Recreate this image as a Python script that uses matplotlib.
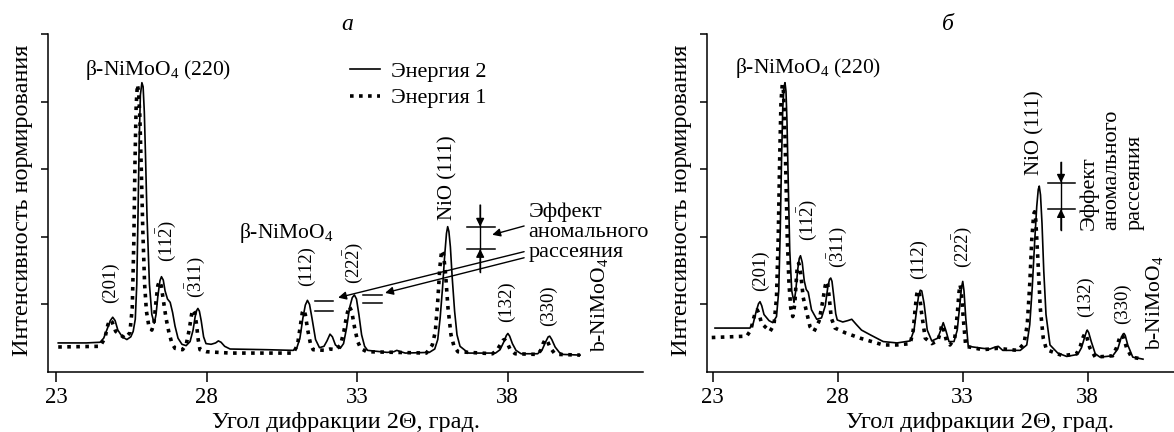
import matplotlib
matplotlib.use('Agg')
import matplotlib.pyplot as plt

plt.rcParams['font.family'] = ['Liberation Serif', 'DejaVu Serif']
plt.rcParams['mathtext.fontset'] = 'custom'
plt.rcParams['mathtext.rm'] = 'Liberation Serif'
plt.rcParams['mathtext.it'] = 'Liberation Serif:italic'

# --- panel a (left) ---
a_solid_x = [23.07, 24.0, 24.46, 24.58, 24.70, 24.80, 24.88, 24.96, 25.05, 25.20, 25.35, 25.48, 25.56,
             25.63, 25.68, 25.72, 25.76, 25.80, 25.85, 25.89, 25.93, 25.97, 26.02, 26.10, 26.18, 26.26,
             26.32, 26.38, 26.45, 26.50, 26.56, 26.62, 26.70, 26.79, 26.87, 26.95, 27.05, 27.18, 27.32,
             27.45, 27.55, 27.62, 27.67, 27.71, 27.76, 27.82, 27.90, 27.98, 28.15, 28.30, 28.39, 28.48,
             28.60, 28.78, 30.0, 30.88, 31.00, 31.10, 31.20, 31.28, 31.35, 31.42, 31.50, 31.62, 31.75,
             31.90, 32.00, 32.10, 32.18, 32.28, 32.44, 32.55, 32.65, 32.75, 32.84, 32.91, 32.98, 33.06,
             33.15, 33.25, 33.35, 34.0, 34.22, 34.32, 34.45, 34.6, 35.4, 35.58, 35.68, 35.76, 35.84,
             35.91, 35.97, 36.01, 36.05, 36.10, 36.16, 36.24, 36.32, 36.42, 36.7, 37.6, 37.75, 37.88,
             37.96, 38.01, 38.07, 38.16, 38.28, 38.45, 39.0, 39.15, 39.27, 39.35, 39.40, 39.47, 39.58,
             39.72, 39.85, 40.41]
a_solid_y = [0.43, 0.43, 0.44, 0.50, 0.64, 0.76, 0.81, 0.76, 0.62, 0.52, 0.48, 0.52, 0.60,
             0.78, 1.30, 2.30, 3.40, 4.10, 4.28, 4.22, 3.85, 3.20, 2.30, 1.30, 0.85, 0.72,
             0.85, 1.12, 1.35, 1.41, 1.36, 1.20, 1.08, 1.03, 0.88, 0.68, 0.50, 0.41, 0.39,
             0.45, 0.62, 0.82, 0.91, 0.94, 0.90, 0.76, 0.52, 0.42, 0.41, 0.43, 0.46, 0.44,
             0.38, 0.34, 0.33, 0.32, 0.36, 0.50, 0.80, 0.99, 1.06, 1.00, 0.80, 0.48, 0.36,
             0.38, 0.46, 0.56, 0.52, 0.40, 0.35, 0.42, 0.65, 0.95, 1.10, 1.14, 1.08, 0.85,
             0.55, 0.38, 0.32, 0.29, 0.30, 0.32, 0.30, 0.28, 0.29, 0.34, 0.48, 0.80, 1.25,
             1.72, 2.05, 2.15, 2.08, 1.85, 1.40, 0.90, 0.55, 0.38, 0.28, 0.28, 0.33, 0.45,
             0.54, 0.57, 0.53, 0.42, 0.32, 0.27, 0.27, 0.33, 0.45, 0.52, 0.53, 0.48, 0.37,
             0.29, 0.26, 0.25]
a_dot_x = [23.07, 24.46, 24.62, 24.72, 24.79, 24.86, 24.98, 25.29, 25.45, 25.53, 25.58, 25.62, 25.66,
           25.70, 25.74, 25.78, 25.83, 25.88, 25.94, 26.0, 26.08, 26.18, 26.25, 26.32, 26.38, 26.43,
           26.49, 26.55, 26.65, 26.75, 26.85, 26.95, 27.2, 27.32, 27.42, 27.50, 27.54, 27.60, 27.66,
           27.72, 27.78, 28.0, 28.78, 30.88, 31.02, 31.12, 31.18, 31.22, 31.28, 31.36, 31.45, 31.54,
           31.95, 32.10, 32.3, 32.45, 32.56, 32.66, 32.74, 32.82, 32.92, 33.02, 33.12, 33.32, 35.3,
           35.50, 35.60, 35.68, 35.75, 35.81, 35.87, 35.94, 36.02, 36.12, 36.22, 36.35, 37.5, 37.66,
           37.78, 37.85, 37.90, 37.97, 38.08, 38.25, 39.0, 39.1, 39.18, 39.25, 39.31, 39.42, 39.55,
           39.7, 40.41]
a_dot_y = [0.37, 0.38, 0.50, 0.70, 0.77, 0.74, 0.60, 0.50, 0.58, 0.95, 1.90, 3.10, 3.95,
           4.25, 4.15, 3.80, 3.00, 2.10, 1.30, 0.90, 0.68, 0.62, 0.72, 1.05, 1.28, 1.34,
           1.28, 1.10, 0.80, 0.58, 0.42, 0.35, 0.33, 0.40, 0.62, 0.85, 0.92, 0.88, 0.72,
           0.48, 0.33, 0.30, 0.28, 0.28, 0.40, 0.70, 0.88, 0.92, 0.85, 0.62, 0.42, 0.33,
           0.32, 0.34, 0.33, 0.40, 0.60, 0.85, 0.97, 0.90, 0.65, 0.45, 0.35, 0.30, 0.28,
           0.40, 0.60, 1.05, 1.55, 1.80, 1.75, 1.45, 0.95, 0.55, 0.38, 0.30, 0.27, 0.33,
           0.42, 0.47, 0.48, 0.45, 0.34, 0.27, 0.26, 0.32, 0.42, 0.48, 0.47, 0.36, 0.28,
           0.26, 0.25]

# --- panel б (right) ---
b_solid_x = [23.09, 24.49, 24.62, 24.74, 24.83, 24.89, 24.96, 25.05, 25.25, 25.40, 25.55, 25.64, 25.70,
             25.75, 25.80, 25.85, 25.89, 25.93, 25.97, 26.02, 26.08, 26.16, 26.25, 26.32, 26.40, 26.46,
             26.51, 26.58, 26.66, 26.74, 26.82, 26.95, 27.16, 27.35, 27.50, 27.60, 27.67, 27.72, 27.77,
             27.84, 27.92, 27.98, 28.2, 28.40, 28.56, 28.75, 28.95, 29.3, 29.82, 30.37, 30.9, 31.05,
             31.15, 31.23, 31.30, 31.36, 31.45, 31.58, 31.76, 32.0, 32.12, 32.22, 32.32, 32.45, 32.65,
             32.78, 32.88, 32.95, 33.0, 33.05, 33.12, 33.22, 33.8, 34.09, 34.30, 34.42, 34.6, 35.3,
             35.56, 35.68, 35.78, 35.88, 35.96, 36.02, 36.06, 36.11, 36.17, 36.24, 36.33, 36.49, 36.8,
             37.16, 37.6, 37.75, 37.88, 37.95, 37.98, 38.04, 38.14, 38.3, 38.49, 39.0, 39.20, 39.33,
             39.41, 39.45, 39.50, 39.60, 39.8, 40.21]
b_solid_y = [0.65, 0.65, 0.72, 0.90, 1.01, 1.04, 0.98, 0.85, 0.76, 0.73, 0.82, 1.20, 2.10,
             3.10, 3.90, 4.22, 4.28, 4.15, 3.70, 2.80, 1.80, 1.20, 1.03, 1.20, 1.52, 1.68,
             1.72, 1.62, 1.35, 1.22, 1.18, 0.92, 0.78, 0.80, 0.98, 1.25, 1.37, 1.39, 1.34,
             1.12, 0.86, 0.77, 0.74, 0.76, 0.78, 0.70, 0.62, 0.55, 0.45, 0.43, 0.46, 0.62,
             0.90, 1.12, 1.21, 1.20, 1.02, 0.62, 0.46, 0.50, 0.62, 0.73, 0.62, 0.45, 0.45,
             0.62, 0.98, 1.25, 1.34, 1.20, 0.80, 0.38, 0.35, 0.34, 0.37, 0.38, 0.32, 0.32,
             0.40, 0.70, 1.25, 1.95, 2.45, 2.70, 2.75, 2.62, 2.20, 1.50, 0.85, 0.40, 0.28,
             0.23, 0.26, 0.36, 0.52, 0.60, 0.62, 0.58, 0.45, 0.27, 0.22, 0.24, 0.34, 0.50,
             0.56, 0.57, 0.54, 0.40, 0.22, 0.19]
b_dot_x = [22.96, 24.36, 24.52, 24.64, 24.72, 24.78, 24.86, 24.95, 25.29, 25.45, 25.55, 25.62, 25.68,
           25.73, 25.78, 25.82, 25.87, 25.92, 25.98, 26.05, 26.12, 26.20, 26.28, 26.34, 26.38, 26.44,
           26.52, 26.62, 26.89, 27.05, 27.25, 27.40, 27.50, 27.56, 27.60, 27.66, 27.74, 27.89, 28.3,
           28.9, 29.82, 30.37, 30.9, 31.02, 31.10, 31.16, 31.21, 31.27, 31.35, 31.5, 31.76, 32.0,
           32.10, 32.16, 32.24, 32.35, 32.49, 32.68, 32.78, 32.85, 32.89, 32.94, 33.02, 33.12, 33.8,
           34.38, 35.2, 35.45, 35.58, 35.68, 35.76, 35.83, 35.87, 35.92, 36.00, 36.10, 36.22, 36.35,
           37.0, 37.55, 37.70, 37.82, 37.89, 37.96, 38.08, 38.3, 39.0, 39.15, 39.27, 39.36, 39.44,
           39.55, 39.75, 40.21]
b_dot_y = [0.51, 0.53, 0.62, 0.80, 0.90, 0.92, 0.85, 0.72, 0.60, 0.70, 1.10, 2.00, 3.20,
           4.00, 4.25, 4.20, 3.80, 3.00, 2.00, 1.30, 0.95, 0.82, 1.00, 1.35, 1.55, 1.61,
           1.45, 1.10, 0.67, 0.60, 0.75, 1.05, 1.28, 1.34, 1.30, 1.10, 0.80, 0.65, 0.58,
           0.50, 0.40, 0.40, 0.42, 0.62, 0.95, 1.15, 1.21, 1.15, 0.88, 0.50, 0.42, 0.46,
           0.58, 0.70, 0.62, 0.46, 0.40, 0.50, 0.85, 1.18, 1.29, 1.20, 0.80, 0.38, 0.33,
           0.35, 0.32, 0.42, 0.70, 1.30, 1.95, 2.30, 2.37, 2.25, 1.70, 0.95, 0.50, 0.33,
           0.24, 0.27, 0.38, 0.52, 0.57, 0.52, 0.36, 0.22, 0.24, 0.36, 0.50, 0.55, 0.50,
           0.36, 0.22, 0.19]

xticks = [23, 28, 33, 38]
legend_labels = ['Энергия 2', 'Энергия 1']

fig = plt.figure(figsize=(11.74, 4.32), dpi=100)
axL = fig.add_axes([48/1174, 1-372/432, 595/1174, 338/432])
axR = fig.add_axes([707/1174, 1-372/432, 467/1174, 338/432])

dotted = (0, (1, 1.5))
for ax in (axL, axR):
    for s in ('top', 'right'):
        ax.spines[s].set_visible(False)
    for s in ('left', 'bottom'):
        ax.spines[s].set_linewidth(1.1)
    ax.set_ylim(0, 5)
    ax.set_yticks([1, 2, 3, 4, 5])
    ax.set_yticklabels([])
    ax.set_xticks(xticks)
    ax.set_xticklabels([str(t) for t in xticks])
    ax.tick_params(axis='x', direction='out', length=7, width=1.1, labelsize=16.5, pad=4)
    ax.tick_params(axis='y', direction='out', length=5, width=1.1)
    ax.set_xlabel('Угол дифракции 2Θ, град.', fontsize=17.5)
    ax.set_ylabel('Интенсивность нормирования', fontsize=17.5)
    ax.patch.set_visible(False)

axL.set_xlim(22.73, 42.5)
axR.set_xlim(22.77, 41.45)

l1, = axL.plot(a_solid_x, a_solid_y, color='k', lw=1.2)
l2, = axL.plot(a_dot_x, a_dot_y, color='k', lw=2.6, linestyle=dotted)
axR.plot(b_solid_x, b_solid_y, color='k', lw=1.2)
axR.plot(b_dot_x, b_dot_y, color='k', lw=2.6, linestyle=dotted)

axL.xaxis.set_label_coords(0.5, -0.118)
axR.xaxis.set_label_coords(0.585, -0.118)
axL.yaxis.set_label_coords(-0.026, 0.509)
axR.yaxis.set_label_coords(-0.032, 0.509)

axL.legend([l1, l2], legend_labels, loc='upper left', bbox_to_anchor=(350/1174, 1-61/432),
           bbox_transform=fig.transFigure, frameon=False, fontsize=16, handlelength=1.35,
           handletextpad=0.5, labelspacing=0.28, borderpad=0, borderaxespad=0)

fig.text(347/1174, 1-25/432, 'а', fontsize=17, style='italic', ha='center', va='center')
fig.text(948/1174, 1-25/432, 'б', fontsize=17, style='italic', ha='center', va='center')

hkl = 13.5
# labels, panel a
axL.text(26.39, 4.47, r'β-NiMoO$_4$ (220)', fontsize=15.5, ha='center', va='center')
axL.text(24.79, 1.32, '(201)', fontsize=hkl, rotation=90, ha='center', va='center')
axL.text(26.65, 1.93, r'$\mathrm{(11\bar{2})}$', fontsize=hkl, rotation=90, ha='center', va='center')
axL.text(27.62, 1.41, r'$\mathrm{(\bar{3}11)}$', fontsize=hkl, rotation=90, ha='center', va='center')
axL.text(30.64, 2.06, r'β-NiMoO$_4$', fontsize=15.5, ha='center', va='center')
axL.text(31.31, 1.56, '(112)', fontsize=hkl, rotation=90, ha='center', va='center')
axL.text(32.87, 1.61, r'$\mathrm{(22\bar{2})}$', fontsize=hkl, rotation=90, ha='center', va='center')
axL.text(36.02, 2.87, 'NiO (111)', fontsize=15, rotation=90, ha='center', va='center')
axL.text(37.98, 1.04, '(132)', fontsize=hkl, rotation=90, ha='center', va='center')
axL.text(39.35, 0.98, '(330)', fontsize=hkl, rotation=90, ha='center', va='center')
axL.text(41.07, 0.99, r'b-NiMoO$_4$', fontsize=15.5, rotation=90, ha='center', va='center')
axL.text(38.69, 2.07, 'Эффект\nаномального\nрассеяния', fontsize=16, ha='left', va='center',
         linespacing=1.08)

arr = dict(arrowstyle='-|>', color='k', lw=1.0, shrinkA=0, shrinkB=0, mutation_scale=12)
# effect marker, panel a
axL.plot([36.66, 37.59], [2.15, 2.15], color='k', lw=1.1)
axL.plot([36.66, 37.59], [1.82, 1.82], color='k', lw=1.1)
axL.plot([37.09, 37.09], [2.47, 1.48], color='k', lw=1.0)
axL.annotate('', xy=(37.09, 2.15), xytext=(37.09, 2.47), arrowprops=arr)
axL.annotate('', xy=(37.09, 1.82), xytext=(37.09, 1.48), arrowprops=arr)
axL.annotate('', xy=(37.49, 2.03), xytext=(38.55, 2.16), arrowprops=arr)
axL.annotate('', xy=(32.37, 1.10), xytext=(38.55, 1.78), arrowprops=arr)
axL.annotate('', xy=(33.93, 1.17), xytext=(38.55, 1.69), arrowprops=arr)
axL.plot([31.61, 32.21], [1.05, 1.05], color='k', lw=1.1)
axL.plot([31.61, 32.21], [0.90, 0.90], color='k', lw=1.1)
axL.plot([33.20, 33.83], [1.14, 1.14], color='k', lw=1.1)
axL.plot([33.20, 33.83], [1.02, 1.02], color='k', lw=1.1)

# labels, panel б
axR.text(26.81, 4.49, r'β-NiMoO$_4$ (220)', fontsize=15.5, ha='center', va='center')
axR.text(24.89, 1.50, '(201)', fontsize=hkl, rotation=90, ha='center', va='center')
axR.text(26.77, 2.25, r'$\mathrm{(11\bar{2})}$', fontsize=hkl, rotation=90, ha='center', va='center')
axR.text(27.97, 1.85, r'$\mathrm{(\bar{3}11)}$', fontsize=hkl, rotation=90, ha='center', va='center')
axR.text(31.21, 1.67, '(112)', fontsize=hkl, rotation=90, ha='center', va='center')
axR.text(32.97, 1.85, r'$\mathrm{(22\bar{2})}$', fontsize=hkl, rotation=90, ha='center', va='center')
axR.text(35.89, 3.54, 'NiO (111)', fontsize=15, rotation=90, ha='center', va='center')
axR.text(37.89, 1.11, '(132)', fontsize=hkl, rotation=90, ha='center', va='center')
axR.text(39.37, 1.01, '(330)', fontsize=hkl, rotation=90, ha='center', va='center')
axR.text(40.69, 1.02, r'b-NiMoO$_4$', fontsize=15.5, rotation=90, ha='center', va='center')
axR.text(38.97, 2.10, 'Эффект\nаномального\nрассеяния', fontsize=16, rotation=90,
         ha='center', va='bottom', multialignment='left', linespacing=1.3)

axR.plot([36.41, 37.49], [2.80, 2.80], color='k', lw=1.1)
axR.plot([36.41, 37.49], [2.41, 2.41], color='k', lw=1.1)
axR.plot([36.93, 36.93], [3.10, 2.10], color='k', lw=1.0)
axR.annotate('', xy=(36.93, 2.80), xytext=(36.93, 3.10), arrowprops=arr)
axR.annotate('', xy=(36.93, 2.41), xytext=(36.93, 2.10), arrowprops=arr)

fig.savefig('out.png', dpi=100)
